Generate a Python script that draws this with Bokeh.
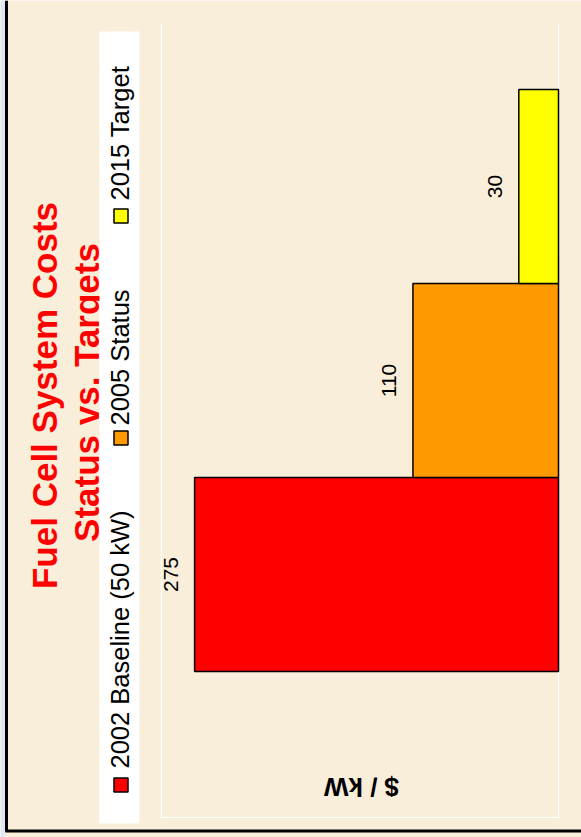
from math import pi

from bokeh.core.properties import value
from bokeh.embed import file_html
from bokeh.models import Range1d
from bokeh.plotting import figure
from bokeh.resources import INLINE

# ---- data -------------------------------------------------------------
categories = ["2002 Baseline (50 kW)", "2005 Status", "2015 Target"]
costs = [275, 110, 30]
bar_colors = ["#ff0000", "#ff9900", "#ffff00"]
title_lines = ["Fuel Cell System Costs", "Status vs. Targets"]
value_axis_label = "$ / kW"

# ---- layout (canvas pixels) ------------------------------------------
W, H = 581, 837
AREA_L, AREA_R, AREA_T, AREA_B = 161, 558, 23, 817   # plot area
VMAX = 300            # value at the far (left) edge of the plot area
BAND = 194            # pixel thickness of one category band
FIRST_CENTER = 574    # pixel row of the first category's centre
PARCHMENT = "#f9eed9"
FONT = value("Liberation Sans")

px_per_val = (AREA_R - AREA_L) / VMAX
x_range = Range1d(AREA_R / px_per_val, -(W - AREA_R) / px_per_val)
y_range = Range1d(-(H - FIRST_CENTER) / BAND, FIRST_CENTER / BAND)

p = figure(
    width=W, height=H,
    x_range=x_range, y_range=y_range,
    x_axis_location=None, y_axis_location=None,
    output_backend="svg", toolbar_location=None,
    min_border=0,
)
p.grid.visible = False
p.outline_line_color = None
p.background_fill_color = PARCHMENT
p.border_fill_color = PARCHMENT

# pixel-space ranges for the page furniture
p.extra_x_ranges = {"px": Range1d(0, W)}
p.extra_y_ranges = {"px": Range1d(H, 0)}
PX = dict(x_range_name="px", y_range_name="px")

# slide frame
p.quad(left=[0], right=[5], top=[0], bottom=[H], fill_color="#dfe7f5", line_color=None, **PX)
p.line(x=[6, 6], y=[0, 831], line_color="black", line_width=3, **PX)
p.line(x=[5, W], y=[830.5, 830.5], line_color="black", line_width=3, **PX)

# plot-area outline
p.line(x=[AREA_L, AREA_L, AREA_R, AREA_R], y=[AREA_T, AREA_B, AREA_B, AREA_T],
       line_color="white", line_width=1.2, **PX)

# bars
pos = list(range(len(categories)))
p.hbar(y=pos, left=0, right=costs, height=1.0,
       fill_color=bar_colors, line_color="black", line_width=1.5)

# value labels beside the bar ends (rotated, centred on the glyph band)
label_pad = 23.5 / px_per_val
p.text(x=[c + label_pad for c in costs], y=pos, text=[str(c) for c in costs],
       angle=pi / 2, text_align="center", text_baseline="middle",
       text_font=FONT, text_font_size=value("21px"), text_color="black")

# title
p.text(x=[43.5, 86], y=[395, 392], text=title_lines,
       angle=pi / 2, text_align="center", text_baseline="middle",
       text_font=FONT, text_font_style="bold", text_font_size=value("35px"),
       text_color="#ff0000", **PX)

# legend
LEG_SWATCH_Y = [784.5, 437.5, 215.5]
LEG_TEXT_Y = [768, 425, 200]
p.quad(left=[99], right=[139], top=[31], bottom=[823],
       fill_color="white", line_color=None, **PX)
p.rect(x=[120.5] * len(categories), y=LEG_SWATCH_Y, width=14, height=14,
       fill_color=bar_colors, line_color="black", line_width=1.5, **PX)
p.text(x=[119.5] * len(categories), y=LEG_TEXT_Y, text=categories,
       angle=pi / 2, text_align="left", text_baseline="middle",
       text_font=FONT, text_font_size=value("25.5px"), text_color="black", **PX)

# value axis title
p.text(x=[361], y=[786.5], text=[value_axis_label], angle=pi,
       text_align="center", text_baseline="middle",
       text_font=FONT, text_font_style="bold", text_font_size=value("26px"),
       text_color="black", **PX)

open("out.html", "w").write(file_html(p, INLINE))
